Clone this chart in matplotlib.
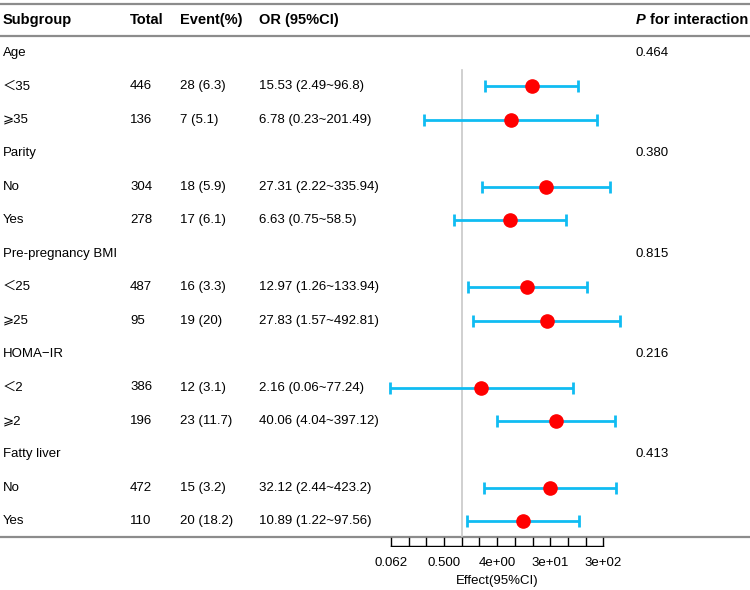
"""
Forest plot of subgroup odds ratios with a text table on the left.
"""

import numpy as np
import matplotlib
matplotlib.use("Agg")
import matplotlib.pyplot as plt

# ── Data ─────────────────────────────────────────────
labels = ["Age", "＜35", "⩾35", "Parity", "No", "Yes", "Pre-pregnancy BMI",
          "＜25", "⩾25", "HOMA−IR", "＜2", "⩾2", "Fatty liver", "No", "Yes"]
total = [None, 446, 136, None, 304, 278, None, 487, 95, None, 386, 196, None, 472, 110]
event_n = [None, 28, 7, None, 18, 17, None, 16, 19, None, 12, 23, None, 15, 20]
event_pct = [None, 6.3, 5.1, None, 5.9, 6.1, None, 3.3, 20, None, 3.1, 11.7, None, 3.2, 18.2]
or_est = [None, 15.53, 6.78, None, 27.31, 6.63, None, 12.97, 27.83, None, 2.16, 40.06, None, 32.12, 10.89]
or_lo = [None, 2.49, 0.23, None, 2.22, 0.75, None, 1.26, 1.57, None, 0.06, 4.04, None, 2.44, 1.22]
or_hi = [None, 96.8, 201.49, None, 335.94, 58.5, None, 133.94, 492.81, None, 77.24, 397.12, None, 423.2, 97.56]
p_inter = ["0.464", None, None, "0.380", None, None, "0.815", None, None,
           "0.216", None, None, "0.413", None, None]
x_ticks = [2**-4, 2**-1, 2**2, 2**5, 2**8]
x_ticklabels = ["0.062", "0.500", "4e+00", "3e+01", "3e+02"]

# ── Layout (pixels) ──────────────────────────────────
W, H = 750, 590
FAM = ["Liberation Sans", "Noto Sans CJK SC", "DejaVu Sans"]
row0, step = 53.0, 33.45
col_x = [3, 130, 180, 259, 636]

fig = plt.figure(figsize=(W / 100, H / 100), dpi=100)
tab = fig.add_axes([0, 0, 1, 1])
tab.set_xlim(0, W)
tab.set_ylim(H, 0)
tab.axis("off")

# horizontal rules
for y in (3.5, 35.5, 537):
    tab.plot([0, W], [y, y], color="#8c8c8c", lw=1.6, solid_capstyle="butt")

# header
hdr_y = 20
for x, t in zip(col_x[:4], ["Subgroup", "Total", "Event(%)", "OR (95%CI)"]):
    tab.text(x, hdr_y, t, fontsize=10.5, fontweight="bold", family=FAM,
             ha="left", va="center")
tab.text(col_x[4], hdr_y, "P", fontsize=10.5, fontweight="bold", fontstyle="italic",
         family=FAM, ha="left", va="center")
tab.text(W - 2, hdr_y, "for interaction", fontsize=10.5, fontweight="bold",
         family=FAM, ha="right", va="center")

# table rows
for i, lab in enumerate(labels):
    y = row0 + i * step
    tab.text(col_x[0], y, lab, fontsize=9.5, family=FAM, ha="left", va="center")
    if total[i] is not None:
        tab.text(col_x[1], y, str(total[i]), fontsize=9.5, family=FAM, va="center")
        tab.text(col_x[2], y, f"{event_n[i]} ({event_pct[i]:g})", fontsize=9.5,
                 family=FAM, va="center")
        tab.text(col_x[3], y, f"{or_est[i]} ({or_lo[i]}~{or_hi[i]})",
                 fontsize=9.5, family=FAM, va="center")
    if p_inter[i] is not None:
        tab.text(col_x[4], y, p_inter[i], fontsize=9.5, family=FAM, va="center")

# ── Forest axes ─────────────────────────────────────
px0, px1 = 370, 640          # axes pixel span (x)
ref_px, unit = 461.7, 17.7   # pixel of OR=1 and pixels per log2 unit
py_top, py_bot = 35.5, 537
ax = fig.add_axes([px0 / W, 1 - py_bot / H, (px1 - px0) / W, (py_bot - py_top) / H])
ax.set_xscale("log", base=2)
ax.set_xlim(2 ** ((px0 - ref_px) / unit), 2 ** ((px1 - ref_px) / unit))
ax.set_ylim((py_bot - row0) / step, (py_top - row0) / step)
ax.axis("off")
ax.patch.set_alpha(0)

ax.plot([1, 1], [0.5, ax.get_ylim()[0]], color="#c8c8c8", lw=1.2)

rows = np.arange(len(labels))
est = np.array([np.nan if v is None else v for v in or_est])
lo = np.array([np.nan if v is None else v for v in or_lo])
hi = np.array([np.nan if v is None else v for v in or_hi])
ok = ~np.isnan(est)
ax.errorbar(est[ok], rows[ok], xerr=[est[ok] - lo[ok], hi[ok] - est[ok]],
            fmt="none", ecolor="#10bcf2", elinewidth=2, capsize=4, capthick=2)
ax.plot(est[ok], rows[ok], "o", color="#ff0000", markersize=9.5, zorder=5)

# bottom axis drawn manually (ticks pointing up)
ax_y = 546
ax2 = fig.add_axes([px0 / W, 1 - (ax_y + 1) / H, (px1 - px0) / W, 10 / H])
ax2.set_xscale("log", base=2)
ax2.set_xlim(ax.get_xlim())
ax2.set_ylim(0, 10)
ax2.axis("off")
ax2.plot([x_ticks[0], x_ticks[-1]], [1, 1], color="black", lw=1)
for k in range(-4, 9):
    ax2.plot([2.0 ** k, 2.0 ** k], [1, 9], color="black", lw=1)

for t, lbl in zip(x_ticks, x_ticklabels):
    xp = ref_px + unit * np.log2(t)
    tab.text(xp, 563, lbl, fontsize=9.5, family=FAM, ha="center", va="center")
tab.text(ref_px + unit * 2, 581, "Effect(95%CI)", fontsize=9.5, family=FAM,
         ha="center", va="center")

fig.savefig("out.png", dpi=100)
